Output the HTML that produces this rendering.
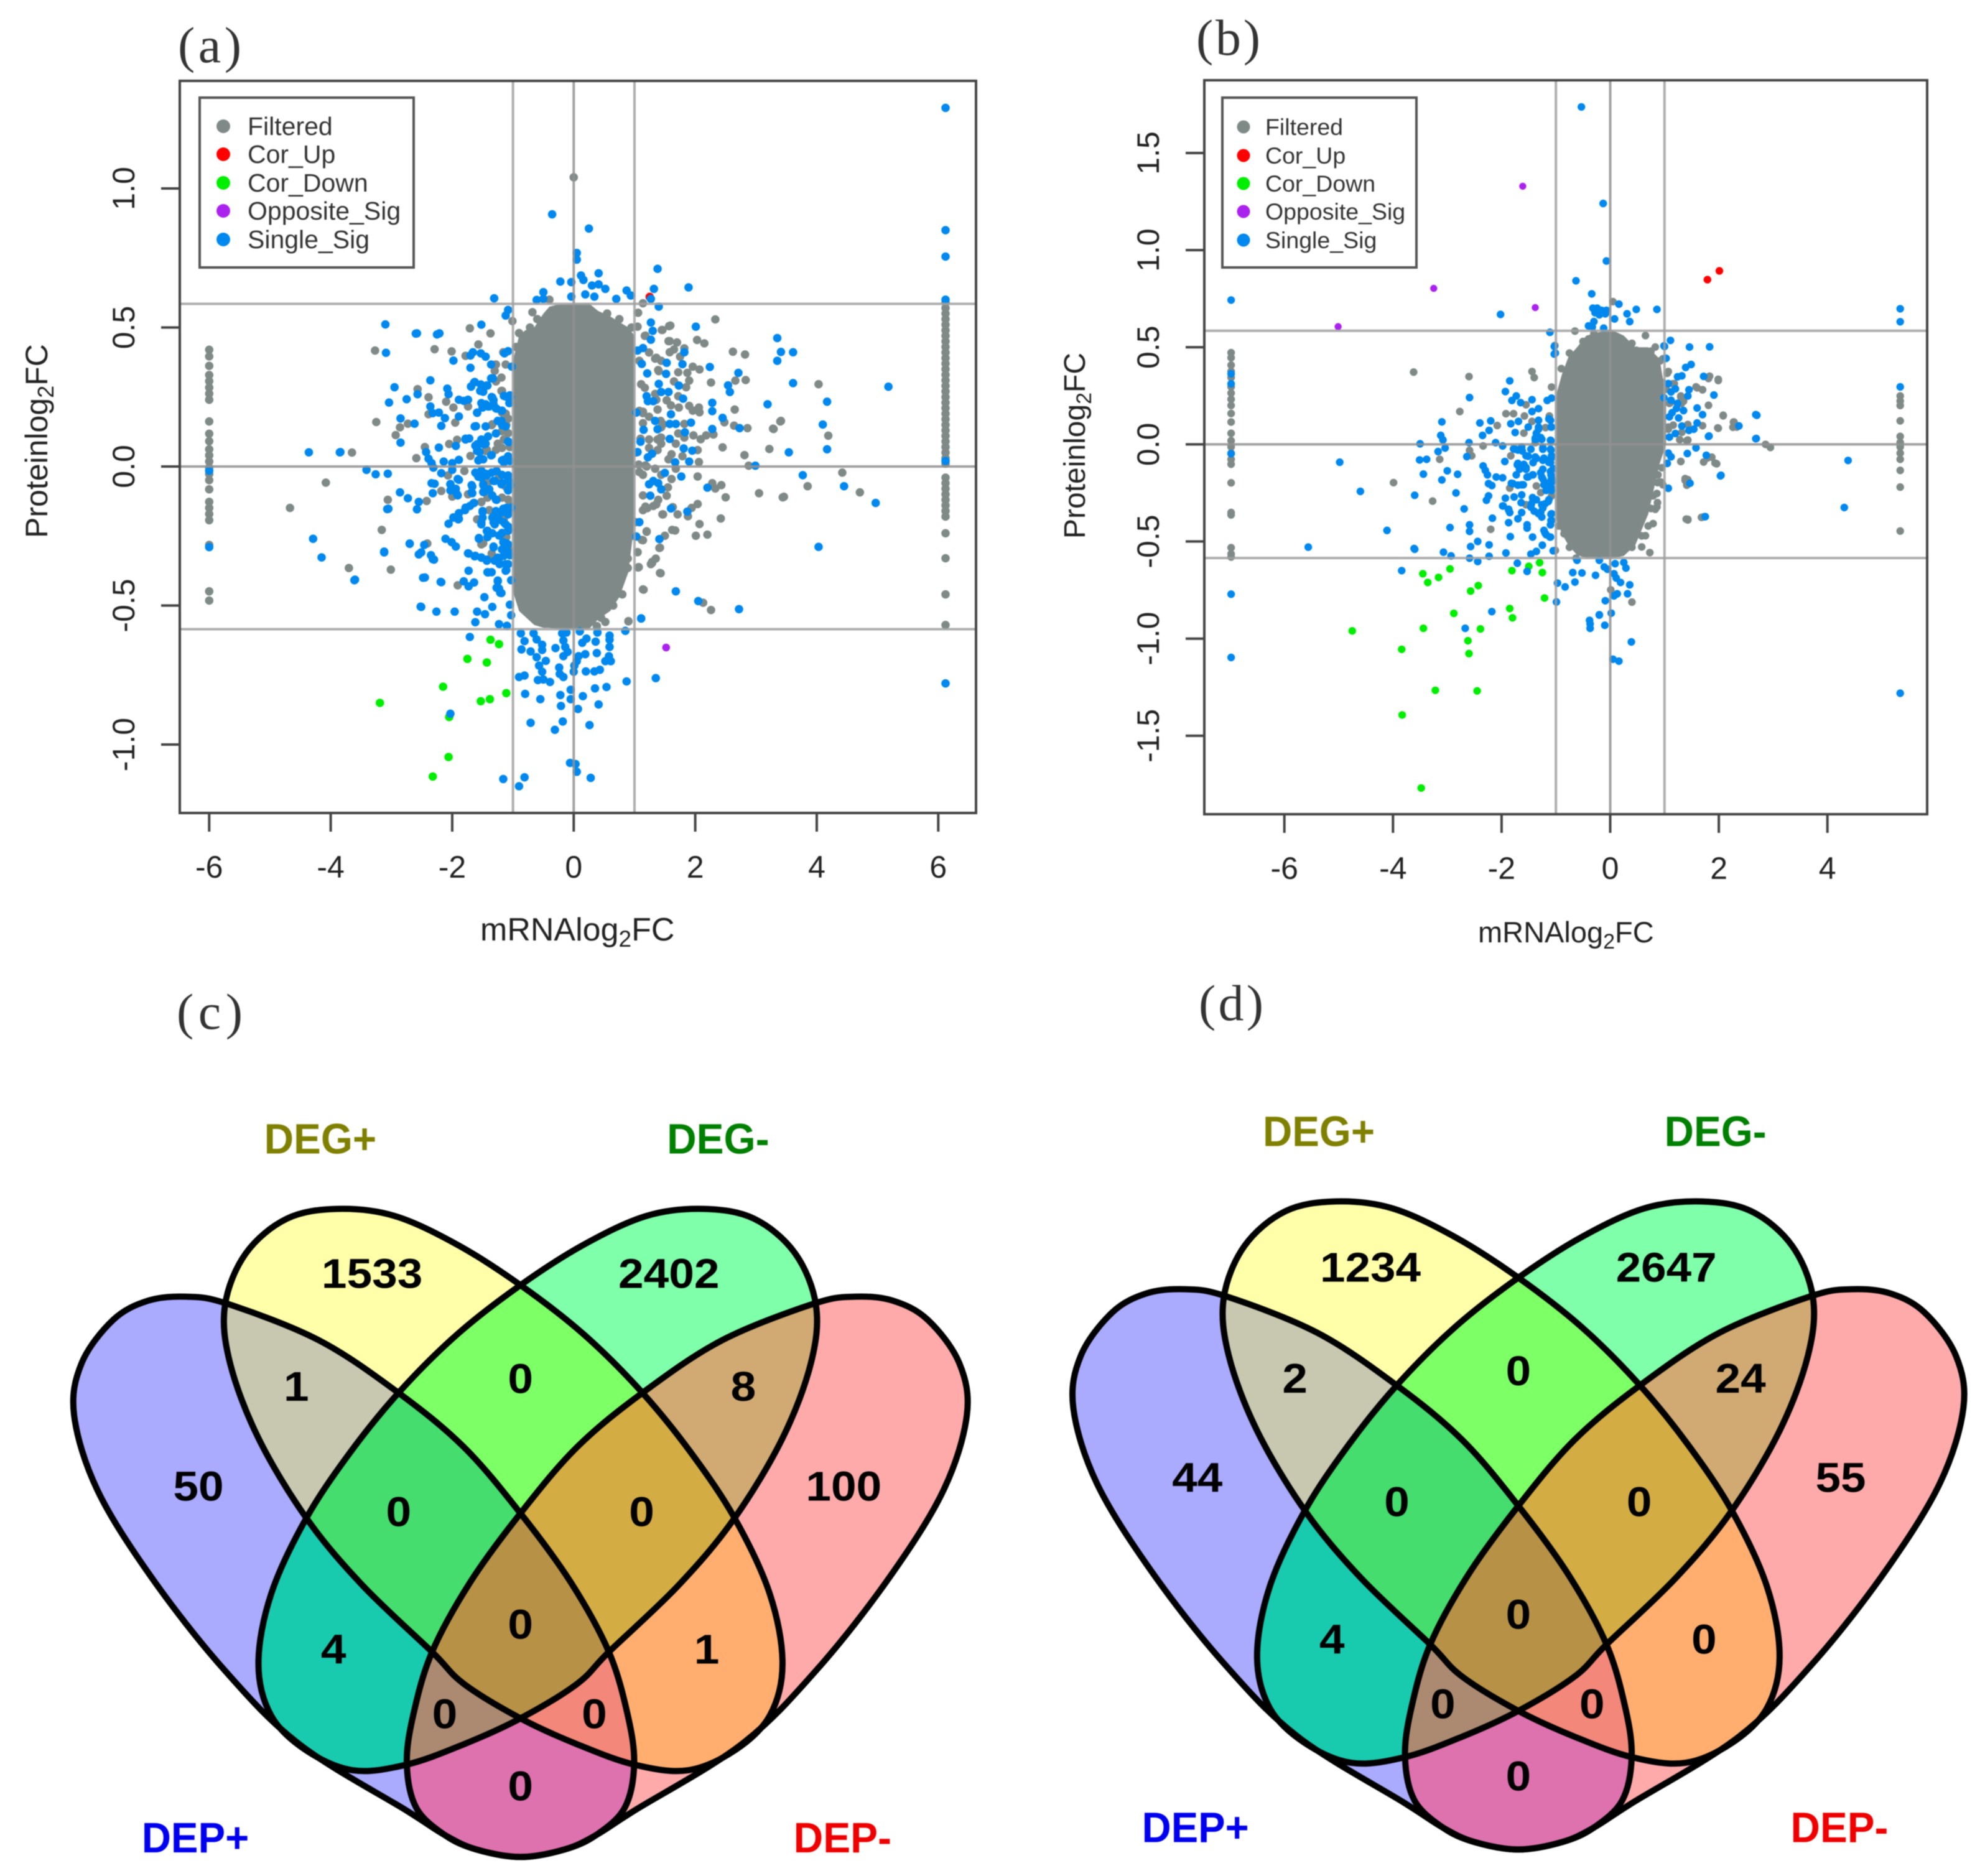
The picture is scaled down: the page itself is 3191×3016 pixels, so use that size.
<!DOCTYPE html>
<html lang="en">
<head>
<meta charset="utf-8">
<title>mRNA and protein log2FC scatter plots with Venn diagrams</title>
<style>
html,body{margin:0;padding:0;background:#fff;}
svg{display:block;filter:blur(0.8px);}
text{font-family:"Liberation Sans",sans-serif;}
.tick{font-size:50px;fill:#222;}
.venn-num{font-size:72px;font-weight:bold;fill:#000;text-anchor:middle;}
.venn-lab{font-size:74px;font-weight:bold;text-anchor:middle;}
.panel-label{font-family:"Liberation Serif",serif;font-size:82px;fill:#333;}
</style>
</head>
<body>
<svg id="fig" xmlns="http://www.w3.org/2000/svg" width="3191" height="3016" viewBox="0 0 3191 3016">
<rect width="3191" height="3016" fill="#fff"/>
<defs id="vennDefs"></defs>

<text class="panel-label" x="286" y="100" textLength="102" lengthAdjust="spacing">(a)</text>
<text class="panel-label" x="1923" y="88" textLength="103" lengthAdjust="spacing">(b)</text>
<text class="panel-label" x="284" y="1654" textLength="106" lengthAdjust="spacing">(c)</text>
<text class="panel-label" x="1927" y="1640" textLength="104" lengthAdjust="spacing">(d)</text>

<g id="panelA"></g>
<g id="panelB"></g>

<g font-size="41" fill="#333">
<rect x="321" y="157" width="344" height="273" fill="#fff" stroke="#555" stroke-width="4"/>
<circle cx="359" cy="203" r="11" fill="#7f8a88"/>
<circle cx="359" cy="248" r="11" fill="#ff0000"/>
<circle cx="359" cy="294" r="11" fill="#00ee00"/>
<circle cx="359" cy="339" r="11" fill="#aa22ee"/>
<circle cx="359" cy="385" r="11" fill="#0088ee"/>
<text x="398" y="217">Filtered</text>
<text x="398" y="262">Cor_Up</text>
<text x="398" y="308">Cor_Down</text>
<text x="398" y="353">Opposite_Sig</text>
<text x="398" y="399">Single_Sig</text>
</g>
<g font-size="37.5" fill="#333">
<rect x="1965" y="157" width="312" height="273" fill="#fff" stroke="#555" stroke-width="4"/>
<circle cx="1999" cy="204" r="10.5" fill="#7f8a88"/>
<circle cx="1999" cy="250" r="10.5" fill="#ff0000"/>
<circle cx="1999" cy="295" r="10.5" fill="#00ee00"/>
<circle cx="1999" cy="340" r="10.5" fill="#aa22ee"/>
<circle cx="1999" cy="386" r="10.5" fill="#0088ee"/>
<text x="2034" y="217">Filtered</text>
<text x="2034" y="263">Cor_Up</text>
<text x="2034" y="308">Cor_Down</text>
<text x="2034" y="353">Opposite_Sig</text>
<text x="2034" y="399">Single_Sig</text>
</g>

<text x="772" y="1512" font-size="52" fill="#222">mRNAlog<tspan dy="10" font-size="37">2</tspan><tspan dy="-10">FC</tspan></text>
<text transform="translate(76,865) rotate(-90)" font-size="50" fill="#222">Proteinlog<tspan dy="10" font-size="36">2</tspan><tspan dy="-10">FC</tspan></text>
<text x="2376" y="1515" font-size="47" fill="#222">mRNAlog<tspan dy="10" font-size="34">2</tspan><tspan dy="-10">FC</tspan></text>
<text transform="translate(1744,866) rotate(-90)" font-size="48" fill="#222">Proteinlog<tspan dy="10" font-size="34">2</tspan><tspan dy="-10">FC</tspan></text>

<g id="vennC" transform="translate(4.4,1560) scale(1.015,0.9286)">
<g id="vennCFill"></g>
<g id="vennCLine"></g>
<text class="venn-lab" x="503" y="317" fill="#808000" textLength="178" lengthAdjust="spacingAndGlyphs">DEG+</text>
<text class="venn-lab" x="1133" y="317" fill="#008000" textLength="162" lengthAdjust="spacingAndGlyphs">DEG-</text>
<text class="venn-lab" x="305" y="1527" fill="#0000ee" textLength="170" lengthAdjust="spacingAndGlyphs">DEP+</text>
<text class="venn-lab" x="1330" y="1527" fill="#ee0000" textLength="155" lengthAdjust="spacingAndGlyphs">DEP-</text>
<text class="venn-num" x="585" y="550">1533</text>
<text class="venn-num" x="1055" y="550">2402</text>
<text class="venn-num" x="310" y="918">50</text>
<text class="venn-num" x="1332" y="918">100</text>
<text class="venn-num" x="465" y="745">1</text>
<text class="venn-num" x="820" y="732">0</text>
<text class="venn-num" x="1173" y="745">8</text>
<text class="venn-num" x="627" y="962">0</text>
<text class="venn-num" x="1012" y="962">0</text>
<text class="venn-num" x="524" y="1200">4</text>
<text class="venn-num" x="820" y="1157">0</text>
<text class="venn-num" x="1115" y="1200">1</text>
<text class="venn-num" x="700" y="1312">0</text>
<text class="venn-num" x="937" y="1312">0</text>
<text class="venn-num" x="820" y="1437">0</text>
</g>

<g id="vennD" transform="translate(1611,1548) scale(1.012,0.9286)">
<g id="vennDFill"></g>
<g id="vennDLine"></g>
<text class="venn-lab" x="503" y="317" fill="#808000" textLength="178" lengthAdjust="spacingAndGlyphs">DEG+</text>
<text class="venn-lab" x="1133" y="317" fill="#008000" textLength="162" lengthAdjust="spacingAndGlyphs">DEG-</text>
<text class="venn-lab" x="307" y="1522" fill="#0000ee" textLength="170" lengthAdjust="spacingAndGlyphs">DEP+</text>
<text class="venn-lab" x="1330" y="1522" fill="#ee0000" textLength="155" lengthAdjust="spacingAndGlyphs">DEP-</text>
<text class="venn-num" x="585" y="552">1234</text>
<text class="venn-num" x="1055" y="552">2647</text>
<text class="venn-num" x="310" y="916">44</text>
<text class="venn-num" x="1332" y="916">55</text>
<text class="venn-num" x="465" y="744">2</text>
<text class="venn-num" x="820" y="731">0</text>
<text class="venn-num" x="1173" y="744">24</text>
<text class="venn-num" x="627" y="958">0</text>
<text class="venn-num" x="1012" y="958">0</text>
<text class="venn-num" x="524" y="1196">4</text>
<text class="venn-num" x="820" y="1153">0</text>
<text class="venn-num" x="1115" y="1196">0</text>
<text class="venn-num" x="700" y="1308">0</text>
<text class="venn-num" x="937" y="1308">0</text>
<text class="venn-num" x="820" y="1433">0</text>
</g>
</svg>

<script>
// ---------- Panel (a) values, flat x,y sequences in data units ----------
const xTicksA = [-6,-4,-2,0,2,4,6];
const yTicksA = [1.0,0.5,0.0,-0.5,-1.0];
const yTickLabelsA = ["1.0","0.5","0.0","-0.5","-1.0"];
const coreXA = [-1,-.9,-.8,-.65,-.5,-.4,-.25,0,.25,.4,.6,.75,.9,1];
const coreTopA = [.38,.47,.49,.5,.55,.575,.583,.585,.587,.56,.54,.52,.5,.47];
const coreBottomA = [-.45,-.52,-.54,-.57,-.58,-.58,-.585,-.585,-.585,-.55,-.52,-.47,-.38,-.2];
const filteredA = [
-6,.42,-6,.396,-6,.362,-6,.329,-6,.307,-6,.284,-6,.262,-6,.24,-6,.162,-6,.118,-6,.091,-6,.062,-6,.04,-6,.018,-6,-.004,-6,-.027,-6,-.049,-6,-.082,-6,-.127,-6,-.149,-6,-.171,-6,-.193,-6,-.282,-6,-.449,-6,-.482,
6.12,.59,6.12,.57,6.12,.55,6.12,.53,6.12,.51,6.12,.49,6.12,.47,6.12,.45,6.12,.43,6.12,.41,6.12,.39,6.12,.37,6.12,.35,6.12,.33,6.12,.31,6.12,.29,6.12,.27,6.12,.25,6.12,.23,6.12,.21,6.12,.19,6.12,.17,6.12,.15,6.12,.13,6.12,.11,6.12,.09,6.12,.07,6.12,.05,6.12,.03,6.12,.01,6.12,-.04,6.12,-.06,6.12,-.08,6.12,-.1,6.12,-.12,6.12,-.14,6.12,-.16,6.12,-.18,6.12,-.24,6.12,-.33,6.12,-.46,6.12,-.57,
0,1.04,-4.67,-.149,-4.08,-.058,-3.65,.05,-3.7,-.365,-3.01,-.371,-3.16,-.228,-3.27,.417,-3.25,.16,-2.93,.113,-2.86,.141,-2.73,.154,-2.57,.278,-2.39,.249,-2.29,.422,-2.01,.414,-1.71,.497,-1.37,.479,-1.57,.439,-1.78,.398,-2.1,.233,-1.98,.212,-1.74,.216,-2.39,.188,-1.95,.158,-2.45,.07,-2.05,.081,-1.92,.096,-2.59,.03,-1.7,.038,-2.07,-.032,-1.8,-.016,-2.18,-.088,-2,-.108,-3.06,-.12,-2.42,-.124,-2.41,-.277,-1.91,-.427,-1.59,-.19,-1.52,-.128,-1.74,-.1,-1.52,-.28,-1.34,-.32,-1.28,.367,-1.19,.32,-1.3,.344,-1.12,.367,-1.16,.411,-1.01,.523,-.68,.555,-1.19,.272,-1.34,.152,-1.12,-.072,-1.43,-.056,-1.43,.06,-1.23,-.036,-1.16,-.188,-1.12,-.256,
-1.35,.149,-1.18,.127,-1.25,.082,-1.45,.056,-1.15,.097,-1.28,.06,-1.18,.067,-1.42,-.06,-1.11,-.067,-1.22,-.037,-1.42,-.112,-1.18,-.112,-1.08,-.119,-1.52,-.127,-1.39,-.157,-1.15,-.187,-1.11,-.254,-1.49,-.276,-1.35,-.313,-1.18,.194,-1.08,.172,-1.11,.149,-1.28,.306,-1.18,.272,-1.3,.366,-1.08,.12,-1.12,.19,-1.05,.07,-1.05,-.14,-1.06,-.3,
1.14,.587,1.06,.553,1.05,.503,1.18,.471,1.45,.491,1.57,.505,1.56,.451,1.36,.391,1.4,.343,1.11,.296,1.36,.24,1.14,.192,1.47,.152,1.43,.104,1.18,.004,1.14,-.104,1.36,-.136,1.18,-.144,1.47,-.172,1.2,-.233,1.12,-.264,1.62,-.228,1.42,-.292,1.05,-.308,.89,-.331,1.29,-.343,1.42,-.383,1.06,-.363,1.14,-.442,
1.17,.47,1.24,.41,1.34,.388,1.44,.38,1.58,.451,1.7,.446,1.58,.411,1.65,.421,1.75,.395,1.82,.425,1.96,.359,2.07,.349,1.39,.347,1.72,.339,1.87,.337,1.65,.306,1.9,.309,1.85,.285,1.17,.283,1.34,.261,1.53,.238,1.72,.253,1.6,.22,1.73,.212,1.9,.218,2.06,.212,1.96,.201,2.07,.195,1.14,.197,1.24,.179,1.38,.205,1.43,.164,1.44,.141,1.14,.156,1.82,.153,1.97,.112,2.09,.098,2.18,.112,2.3,.115,1.72,.119,1.82,.104,1.38,.097,1.24,.097,1.44,.104,1.24,.067,1.38,.059,1.44,.082,1.68,.082,1.61,.044,1.56,.026,1.79,.037,2.04,.059,2.06,.016,1.07,.007,1.2,0,1.34,-.008,1.68,-.008,1.44,-.03,1.61,-.045,1.14,-.03,2.04,-.036,1.55,-.075,1.53,-.105,1.39,-.12,1.31,-.142,1.14,-.157,1.21,-.15,1.46,-.172,1.63,-.146,1.71,-.172,1.94,-.149,2.04,-.135,1.88,-.179,2.28,-.06,2.33,-.079,2.43,-.067,2.5,-.111,2.42,-.187,2.07,-.207,1.67,-.23,1.5,-.249,2.01,-.249,2.2,-.245,1.2,-.235,1.14,-.265,1.41,-.293,1.05,-.308,1.35,-.331,1.27,-.351,1.07,-.362,1.43,-.384,1.15,-.443,2.13,-.49,2.26,-.516,2.33,.529,1.59,.507,1.46,.491,2.03,.455,2.15,.443,2.62,.413,2.82,.403,2.26,.302,2.66,.309,2.83,.311,2.65,.205,2.48,.159,2.64,.147,2.86,.138,3.29,.135,3.41,.164,2.45,.069,2.81,.041,3.22,.063,2.88,.003,3.05,-.096,3.44,-.111,
4.03,.296,3.28,.136,3.4,.162,4.19,.111,3.46,-.109,3.85,-.071,4.42,-.022,4.71,-.093,
.9,-.556,.52,-.433,.59,-.462,.49,-.511,.45,-.544,.23,-.537,.23,-.556,.7,-.388,.8,-.391,.89,-.365,1.07,-.362,1.29,-.347,.9,-.557,.52,-.559,.38,-.574,1.02,-.2,.95,-.25,.8,-.46,.65,-.5,1.02,.05,1.08,-.02,1.1,.1,1.08,.2,1.08,.38,.95,.5,.75,.53,.55,.55,-.72,.5,-.9,.48,-.95,.43,-.6,.53,-.4,.6
];
const corUpA = [1.25,.61];
const corDownA = [-1.37,-.623,-1.23,-.639,-1.75,-.692,-1.43,-.705,-2.15,-.792,-1.11,-.815,-1.38,-.837,-1.53,-.844,-3.19,-.85,-2.05,-.901,-2.06,-1.045,-2.32,-1.115];
const oppositeSigA = [1.52,-.651];
const singleSigA = [
6.12,1.29,6.12,.85,6.12,.755,6.12,.6,6.12,.02,6.12,-.78,-6,-.015,-6,-.29,
.05,.768,.05,.744,-.22,.665,-.04,.663,-.04,.611,.12,.687,.16,.671,.41,.695,.3,.651,.41,.655,.52,.639,.19,.619,.34,.611,.7,.603,.87,.633,.94,.615,1.38,.711,1.32,.639,1.27,.603,1.4,.575,-.5,.627,-.61,.599,-.5,.603,-1.31,.605,-1.08,.563,-1.12,.543,1.89,.644,-.355,.907,.25,.856,
1.27,.518,1.3,.488,1.27,.456,1.14,.426,1.05,.417,2.01,.503,1.82,.411,1.12,.369,1.53,.373,1.79,.368,2.24,.358,1.21,.335,1.52,.333,2.71,.337,2.54,.292,2.57,.268,1.4,.297,1.44,.268,1.56,.268,1.73,.291,1.2,.253,1.22,.235,1.31,.235,1.8,.244,2.28,.229,2.28,.199,3.19,.224,1.03,.194,1.6,.188,1.34,.164,1.38,.134,1.58,.153,1.68,.153,1.93,.158,1.15,.132,1.83,.123,2.28,.135,2.73,.138,2.45,.175,1.58,.099,1.1,.089,1.81,.065,1.95,.057,1.05,.052,1.22,.033,1.29,.046,1.67,.015,1.9,.018,2.99,.003,1.5,-.023,1.77,-.036,1.31,-.052,1.24,-.064,1.39,-.06,1.44,-.082,2.2,-.076,1.26,-.105,1.87,-.162,1.6,-.151,1.08,-.2,1.03,-.252,1.41,-.261,1.68,-.449,2.05,-.484,2.72,-.513,1.11,-.546,3.35,.462,3.41,.412,3.35,.38,
3.61,.411,3.61,.3,5.18,.287,4.17,.233,4.1,.151,4.17,.062,3.54,.051,3.77,-.031,4.45,-.071,4.97,-.131,4.03,-.289,
-3.1,.511,-2.58,.479,-2.25,.475,-2.21,.479,-3.09,.409,-1.98,.381,-1.7,.355,-1.7,.399,-1.66,.411,-1.52,.51,-1.53,.407,-1.45,.395,-1.14,.407,-1.08,.415,-1.36,.367,-1.02,.359,-2.36,.31,-2.95,.285,-2.75,.242,-3.04,.23,-2.57,.26,-2.08,.28,-2.06,.26,-1.89,.24,-1.74,.24,-1.81,.236,-2.36,.216,-2.32,.192,-2.22,.194,-2.12,.174,-1.89,.18,-2.18,.146,-2.62,.154,-2.85,.173,-2.85,.086,-2.22,.068,-1.94,.074,-1.78,.1,-1.63,.144,-1.45,.144,-1.69,.288,-1.63,.304,-1.36,.317,-1.49,.284,-1.43,.292,-1.54,.272,-1.12,.252,-1.05,.256,-1.34,.248,-1.32,.224,-1.41,.216,-1.5,.212,-1.27,.208,-1.59,.193,-1.19,.164,-1.12,.144,-1.59,.08,-1.52,.096,-1.41,.108,-1.59,.056,-1.48,.08,-1.07,.088,-1.36,.04,-1.08,.036,-1.16,.024,-1.56,.024,-1.05,.02,-3.84,.052,-2.43,.052,-2.39,.028,-2.34,.012,-2.14,.018,-1.89,.024,-2,.012,-2.31,-.004,
-1.32,.239,-1.39,.216,-1.28,.209,-1.49,.216,-1.18,.201,-1.59,.194,-1.35,.25,-1.45,.224,-1.52,.097,-1.59,.075,-1.45,.082,-1.55,.052,-1.57,.022,-1.49,.026,-1.35,.041,-1.18,.022,-1.08,.037,-1.08,.022,-1.15,.015,-1.62,.075,-1.72,.101,-1.78,.097,-1.25,.164,-1.18,.149,-1.28,.119,-1.08,.09,-1.61,.145,-1.49,.283,-1.42,.291,-1.49,.269,-1.69,.287,-1.64,.302,-1.53,.295,-1.33,.317,-1.15,.254,-1.04,.25,-1.06,.228,-1.52,.228,
-3.41,-.012,-3.26,-.028,-3.06,-.026,-2.18,-.024,-2,-.012,-1.61,-.024,-1.52,-.04,-1.43,-.032,-1.27,-.016,-1.08,-.032,-1.05,-.056,-1.3,-.052,-1.49,-.064,-1.19,-.064,-1.89,-.048,-2.03,-.064,-2.29,-.062,-2.32,-.096,-1.94,-.08,-1.92,-.1,-1.67,-.072,-1.67,-.096,-1.49,-.092,-1.34,-.104,-1.27,-.12,-1.08,-.084,-2.73,-.114,-3.05,-.152,-2.58,-.154,-1.65,-.132,-1.78,-.148,-1.89,-.168,-1.98,-.184,-1.89,-.188,-2.06,-.206,-1.5,-.16,-1.5,-.184,-1.52,-.208,-1.34,-.184,-1.28,-.16,-1.16,-.152,-1.08,-.168,-1.03,-.148,-1.23,-.192,-1.3,-.208,-1.12,-.208,-1.07,-.228,-1.43,-.232,-1.34,-.24,-1.56,-.26,-1.23,-.248,-1.16,-.272,-1.08,-.28,-1.32,-.288,-2.11,-.26,-2.01,-.272,-1.94,-.288,-2.7,-.277,-3.12,-.306,-2.51,-.309,-2.35,-.319,-2.3,-.335,-1.74,-.312,-1.63,-.323,-1.52,-.327,-1.43,-.335,-1.23,-.331,-1.3,-.339,-1.12,-.351,-1.05,-.319,-1.14,-.312,-1.73,-.375,-1.41,-.381,-1.12,-.375,-3.6,-.407,-2.45,-.399,-2.19,-.415,-1.81,-.413,-1.73,-.431,-1.64,-.417,-1.25,-.413,-1.23,-.439,-1.19,-.455,-1.03,-.409,
-1.62,-.022,-1.52,-.015,-1.57,-.037,-1.45,-.026,-1.35,-.022,-1.18,-.03,-1.08,-.045,-1.04,-.067,-1.18,-.06,-1.49,-.067,-1.47,-.09,-1.39,-.082,-1.32,-.052,-1.08,-.086,-1.28,-.119,-1.68,-.067,-1.68,-.093,-2.03,-.063,-1.91,-.045,-1.91,-.104,-2.03,-.086,-1.11,-.149,-1.18,-.164,-1.08,-.172,-1.32,-.179,-1.32,-.201,-1.25,-.187,-1.15,-.201,-1.08,-.216,-1.5,-.164,-1.52,-.201,-1.42,-.231,-1.18,-.239,-1.08,-.231,-1.11,-.276,-1.18,-.298,-1.08,-.306,-1.32,-.291,-1.56,-.257,-1.42,-.254,-1.73,-.313,-1.62,-.321,-1.52,-.328,-1.43,-.339,-1.25,-.328,-1.22,-.351,-1.15,-.321,-1.08,-.351,-1.11,-.373,-1.42,-.38,-1.35,-.38,-1.98,-.183,-1.9,-.19,-1.79,-.157,-1.71,-.142,-1.64,-.131,
-4.36,.051,-3.85,.051,-4.29,-.26,-4.15,-.327,-3.61,-.409,-3.12,-.309,-3.07,-.153,-2.6,.478,-2.7,-.278,-2.46,-.282,-2.55,-.316,-2.32,-.333,-2.48,-.4,-2.18,-.416,-2.52,-.504,-2.55,-.127,-2.86,-.093,-2.34,-.06,
-2.51,-.505,-2.26,-.522,-1.96,-.522,-1.59,-.522,-1.46,-.531,-1.34,-.505,-1.62,-.56,-1.47,-.47,-1.23,-.567,-1.1,-.573,-1.05,-.497,-1.03,-.535,-1.25,-.41,-1.27,-.436,-1.21,-.454,
-1.71,-.613,-.87,-.6,-.81,-.628,-.86,-.658,-.71,-.665,-.66,-.6,-.61,-.622,-.52,-.641,-.52,-.66,-.61,-.686,-.46,-.699,-.57,-.716,-.52,-.738,-.9,-.757,-.81,-.752,-.59,-.768,-.5,-.766,-.39,-.775,-.8,-.818,-.55,-.837,-.22,-.822,-.05,-.803,-.05,-.837,-.21,-.861,.07,-.872,.15,-.826,.35,-.798,.54,-.793,.41,-.856,.87,-.773,1.35,-.761,-.71,-.922,-.18,-.917,-.31,-.947,.26,-.93,
-.3,-.653,-.19,-.6,-.12,-.597,-.17,-.626,-.14,-.649,-.1,-.667,-.17,-.682,-.24,-.723,-.23,-.746,-.17,-.757,.1,-.593,.39,-.597,.59,-.608,.59,-.623,.59,-.649,.21,-.619,.14,-.634,.36,-.63,.38,-.671,.19,-.675,.08,-.682,.05,-.7,.01,-.716,0,-.738,.2,-.737,.34,-.737,.43,-.731,.58,-.682,.52,-.7,.61,-.7,.85,-.591,1.11,-.547,
-.06,-1.066,.03,-1.07,.05,-1.098,.28,-1.12,-1.16,-1.124,-.81,-1.118,-.9,-1.15,-2.03,-.889
];

// ---------- Panel (b) values, flat x,y sequences in data units ----------
const xTicksB = [-6,-4,-2,0,2,4];
const yTicksB = [1.5,1.0,0.5,0.0,-0.5,-1.0,-1.5];
const yTickLabelsB = ["1.5","1.0","0.5","0.0","-0.5","-1.0","-1.5"];
const coreXB = [-1,-.89,-.77,-.61,-.44,0,.25,.46,.7,.91,1.03];
const coreTopB = [.25,.36,.45,.5,.56,.592,.56,.5,.5,.44,.24];
const coreBottomB = [-.38,-.46,-.52,-.57,-.586,-.589,-.574,-.52,-.36,-.1,.0];
const filteredB = [
-6.98,.472,-6.98,.446,-6.98,.408,-6.98,.376,-6.98,.344,-6.98,.296,-6.98,.264,-6.98,.232,-6.98,.2,-6.98,.159,-6.98,.115,-6.98,.057,-6.98,.019,-6.98,-.013,-6.98,-.045,-6.98,-.077,-6.98,-.102,-6.98,-.198,-6.98,-.351,-6.98,-.363,-6.98,-.532,-6.98,-.564,-6.98,-.58,
5.34,.249,5.34,.223,5.34,.2,5.34,.121,5.34,.041,5.34,.01,5.34,-.013,5.34,-.045,5.34,-.077,5.34,-.134,5.34,-.22,5.34,-.446,
-3.62,.372,-2.6,.349,-1.44,.375,-1.4,.344,-2.77,.169,-1.92,.158,-1.78,.158,-1.55,.204,-1.58,.146,-2.08,.097,-1.44,.118,-1.59,.058,-1.19,.086,-1.12,.146,-2.34,-.008,-2.59,-.031,-2.55,-.059,-3.14,-.077,-3.99,-.197,-3.27,-.292,-1.85,-.225,-2.2,-.437,-1.36,-.214,-1.28,-.248,-1.08,-.265,-1.55,-.311,-1.83,-.059,-1.38,.009,-.65,.583,-1.02,.509,-1.08,.295,-.85,.318,.05,.735,.65,.56,.73,-.557,-.63,-.586,-1.01,-.546,.4,-.812,.01,-.749,
.48,.484,.83,.501,1.07,.375,1.15,.312,1.03,.284,1.3,.244,1.11,.215,1.07,.089,1.3,-.088,1.38,-.185,1.4,-.385,.87,-.157,.87,-.197,.97,-.208,.7,-.208,.79,-.265,.87,-.3,.83,-.334,.79,-.408,.58,-.471,.58,-.528,
1.99,.335,1.83,.351,1.58,.296,1.7,.281,2.08,.147,2.28,.115,1.99,.083,2.33,.089,2.86,0,2.95,-.016,1.79,-.07,1.93,-.096,1.72,-.373,1.43,-.389,1.43,-.182,1.7,.096,1.31,.21,1.41,.019,1.81,.201,
1.05,.366,.97,.441,1.18,.313,1.6,.291,1.7,.281,1.81,.339,1.99,.329,1.3,.249,1.35,.222,1.09,.211,2.08,.15,2.27,.115,2.26,.088,1.98,.085,1.16,.099,1.07,.078,1.43,.102,1.32,.062,1.28,.024,1.43,.022,1.3,-.088,1.72,-.091,1.87,-.066,1.96,-.1,1.38,-.176,1.41,-.21,1.43,-.386,1.68,-.376,.88,-.157,.93,-.194,.86,-.253,.86,-.322,.97,.318,
-.75,.47,-.9,.39,-.5,.53,-.3,.57,.4,.52,.75,.48,.92,.43,1,.3,.95,-.12,.75,-.33,.7,-.42,.65,-.47,.4,-.53,-.75,-.53,-.85,-.46,-.95,-.42
];
const corUpB = [1.79,.848,2.01,.893];
const corDownB = [-3.45,-.666,-3.36,-.711,-3.16,-.685,-2.95,-.641,-2.57,-.755,-2.43,-.727,-1.81,-.65,-1.5,-.628,-1.3,-.609,-1.25,-.66,-1.21,-.791,-1.85,-.845,-1.8,-.893,-2.88,-.87,-2.39,-.95,-3.44,-.947,-4.75,-.96,-2.62,-1.011,-2.6,-1.077,-3.84,-1.055,-3.22,-1.266,-2.45,-1.269,-3.83,-1.393,-3.48,-1.769];
const oppositeSigB = [-1.61,1.329,-3.25,.803,-1.38,.704,-5.01,.606];
const singleSigB = [
-6.98,.743,-6.98,.363,-6.98,.312,-6.98,-.048,-6.98,-.771,-6.98,-1.097,5.34,.698,5.34,.631,5.34,.296,5.34,-1.281,
-.53,1.737,-.13,1.24,-.07,.944,-.63,.842,-.34,.775,-2.02,.669,-1.11,.577,-1.03,.504,-1.03,.465,.48,.695,.86,.695,1,.504,2.68,.153,2.68,.029,2.04,-.159,1.81,.041,4.38,-.083,4.31,-.325,-5.56,-.529,-4.98,-.092,-4.6,-.242,-4.11,-.443,-3.61,-.536,-3.84,-.65,.39,-1.017,.05,-1.106,.16,-1.116,
.16,.722,.31,.672,.36,.632,.08,.646,-.32,.701,-.24,.701,-.16,.69,-.07,.69,-.28,.678,-.2,.667,-.09,.672,-.3,.632,-.4,.61,-.33,.604,-.12,.598,-1.01,.47,
1.11,.535,.99,.507,1.46,.501,1.83,.502,1.03,.443,1.49,.411,1.39,.396,1.32,.353,1.24,.348,1.72,.35,1.07,.313,1.2,.286,1.12,.27,1.45,.281,1.43,.249,1.91,.254,.99,.24,1.12,.227,1.24,.211,1.22,.185,1.14,.163,1.09,.142,1.26,.136,1.35,.174,1.6,.187,1.7,.153,1.6,.11,1.32,.094,1.45,.072,1.54,.078,1.2,.056,1.09,.037,1.82,.043,2.7,.15,2.37,.095,2.69,.03,1.07,-.045,1.12,-.064,1.05,-.098,1.42,-.047,1.58,-.018,1.77,-.056,2.03,-.162,1.47,-.2,1.07,-.226,1.75,-.372,
-1.85,.327,-1.93,.272,-2.59,.241,-1.73,.249,-1.81,.226,-1.65,.215,-1.44,.23,-1.16,.226,-1.08,.238,-1.44,.169,-1.32,.184,-1.1,.124,-1.08,.089,-1.32,.124,-1.51,.089,-1.75,.061,-1.83,.106,-1.69,.118,-2.2,.121,-2.4,.11,-2.23,.072,-2.35,.046,-3.1,.116,-3.12,.046,-3.08,.023,-3.5,.003,-2.6,.009,-2.11,.009,-1.98,-.008,-3.04,-.019,-3.17,-.037,-3.51,-.08,-3.38,-.077,-2.64,-.063,
-1.32,.078,-1.38,.032,-1.26,.026,-1.1,.021,-1.75,-.025,-1.63,-.014,-1.46,-.025,-1.24,-.025,-1.1,-.025,-1.55,-.059,-1.38,-.065,-1.22,-.071,-1.08,-.059,-1.94,-.088,-1.71,-.105,-1.59,-.105,-1.42,-.094,-1.1,-.094,-1.67,-.128,-1.55,-.128,-1.24,-.128,-1.1,-.14,-1.73,-.157,-1.53,-.168,-1.42,-.157,-1.26,-.168,-1.08,-.174,-2.34,-.111,-2.3,-.134,-2.26,-.157,-2.1,-.168,-1.98,-.172,-3,-.136,-2.81,-.154,-3.44,-.153,-3.1,-.183,-2.24,-.202,-2.18,-.212,-1.79,-.202,-1.63,-.208,-1.22,-.208,-1.1,-.214,-1.18,-.237,-1.08,-.237,-2.84,-.25,-3.6,-.262,-2.24,-.265,-2.28,-.288,-1.93,-.277,-1.77,-.271,-1.63,-.26,-1.64,-.3,-1.42,-.288,-1.26,-.311,-1.14,-.294,-1.46,-.323,-1.98,-.317,-1.87,-.334,-1.85,-.351,-2.69,-.332,-2.17,-.38,-1.87,-.403,-1.7,-.383,-1.63,-.351,-1.32,-.357,-1.26,-.374,-1.08,-.357,-1.08,-.391,-1.1,-.414,-1.53,-.414,-1.53,-.431,-2.59,-.414,-2.59,-.448,-2.95,-.428,-1.84,-.475,-1.43,-.477,-1.22,-.443,-1.18,-.465,-1.1,-.477,-2.44,-.5,-2.57,-.526,-2.23,-.517,-1.25,-.519,-1.36,-.551,-1.46,-.565,-1.92,-.559,-1.05,-.548,-3.6,-.54,-3.07,-.555,-2.93,-.574,-2.59,-.586,-2.23,-.576,-2.44,-.603,-1.71,-.612,-1.53,-.654,
-1.36,.057,-1.28,.035,-1.09,.019,-1.32,.089,-1.09,.089,-1.78,-.023,-1.7,-.029,-1.62,-.034,-1.51,-.061,-1.36,-.072,-1.24,-.082,-1.09,-.029,-1.09,-.072,-1.24,-.018,-1.7,-.098,-1.59,-.103,-1.66,-.125,-1.55,-.119,-1.13,-.093,-1.05,-.125,-1.28,-.146,-1.09,-.157,-1.05,-.189,-1.51,-.167,-1.43,-.157,-1.24,-.178,-1.17,-.199,-1.09,-.221,-1.43,-.274,-1.45,-.306,-1.36,-.285,-1.2,-.306,-1.13,-.285,-1.28,-.349,-1.4,-.344,-1.09,-.36,-1.09,-.392,-1.24,-.328,-1.2,-.456,-1.11,-.477,-1.82,-.2,-1.7,-.21,-1.6,-.208,-1.87,-.338,-1.97,-.317,-1.38,.025,-1.13,.131,
-.61,-.597,-.2,-.597,-.11,-.631,-.05,-.643,.09,-.614,.25,-.608,.29,-.637,.07,-.666,.11,-.688,.19,-.711,-.69,-.66,-.52,-.662,-.27,-.674,-.97,-.714,-.83,-.734,-.65,-.709,.36,-.723,.32,-.769,.13,-.769,.07,-.78,-.09,-.805,-.99,-.811,.02,-.869,-.2,-.879,-.38,-.906,-2.18,-.861,-2.67,-.947,-.2,-.877,-.37,-.924,-.37,-.947,-.1,-.931
];

// ---------- Venn outline anchor points (diagram units) ----------
const vennOuterOutline = [[290,565],[355,577],[500,640],[625,730],[730,825],[820,940],[900,1060],[960,1180],[990,1290],[1000,1375],[985,1450],[940,1497],[890,1522],[820,1535],[750,1522],[700,1497],[640,1455],[470,1340],[350,1210],[235,1050],[150,900],[113,770],[125,680],[175,605],[230,572]];
const vennInnerOutline = [[530,413],[620,425],[720,475],[820,545],[920,630],[1012,730],[1090,835],[1160,950],[1215,1080],[1235,1200],[1215,1290],[1160,1350],[1085,1385],[1000,1375],[910,1340],[820,1295],[730,1235],[680,1180],[570,1065],[482,950],[405,810],[360,680],[352,580],[385,490],[450,430]];
const vennRegions = [
 ["A","#aaaaff","dep-plus"],["B","#ffffaa","deg-plus"],["C","#7fffa9","deg-minus"],["D","#ffaaaa","dep-minus"],
 ["AB","#c8c8b0","dep-plus-deg-plus"],["BC","#7dff66","deg-plus-deg-minus"],["CD","#d0aa72","deg-minus-dep-minus"],["AC","#19cbae","dep-plus-deg-minus"],["BD","#ffae6f","deg-plus-dep-minus"],["AD","#de72ae","dep-plus-dep-minus"],
 ["ABC","#44dd6e","dep-plus-deg-plus-deg-minus"],["BCD","#d4ac44","deg-plus-deg-minus-dep-minus"],["ACD","#ac8a72","dep-plus-deg-minus-dep-minus"],["ABD","#f3877a","dep-plus-deg-plus-dep-minus"],
 ["ABCD","#b79146","all-four"]
];

const NS = "http://www.w3.org/2000/svg";
const COLORS = {filtered:"#7f8a88", up:"#ff0000", down:"#00ee00", opp:"#aa22ee", single:"#0088ee"};

function svgEl(tag, parent){
  const el = document.createElementNS(NS, tag);
  parent.appendChild(el);
  return el;
}

function drawPoints(parent, xy, sx, sy, r, color, name){
  for (let i = 0; i + 1 < xy.length; i += 2){
    const c = svgEl("circle", parent);
    c.setAttribute("cx", sx(xy[i]).toFixed(1));
    c.setAttribute("cy", sy(xy[i+1]).toFixed(1));
    c.setAttribute("r", r);
    c.setAttribute("fill", color);
    
    
  }
}

function drawLine(parent, x1, y1, x2, y2, stroke, width, name){
  const l = svgEl("line", parent);
  l.setAttribute("x1", x1); l.setAttribute("y1", y1);
  l.setAttribute("x2", x2); l.setAttribute("y2", y2);
  l.setAttribute("stroke", stroke);
  l.setAttribute("stroke-width", width);
  
  
}

function drawPanel(p){
  const g = document.getElementById(p.id);
  const sx = v => p.x0 + v * p.ux;
  const sy = v => p.y0 - v * p.uy;

  // dense core of filtered points as an envelope polygon
  const core = svgEl("path", g);
  let d = "";
  p.coreX.forEach((v,i)=>{ d += (i ? "L" : "M") + sx(v).toFixed(1) + " " + sy(p.coreTop[i]).toFixed(1); });
  for (let i = p.coreX.length - 1; i >= 0; i--){ d += "L" + sx(p.coreX[i]).toFixed(1) + " " + sy(p.coreBottom[i]).toFixed(1); }
  core.setAttribute("d", d + "Z");
  core.setAttribute("fill", COLORS.filtered);
  
  

  drawPoints(g, p.filtered, sx, sy, p.r, COLORS.filtered, 'filtered-point');
  drawPoints(g, p.up, sx, sy, p.r, COLORS.up, 'cor-up-point');
  drawPoints(g, p.down, sx, sy, p.r, COLORS.down, 'cor-down-point');
  drawPoints(g, p.opp, sx, sy, p.r - 0.5, COLORS.opp, 'opposite-sig-point');
  drawPoints(g, p.single, sx, sy, p.r, COLORS.single, 'single-sig-point');

  // reference lines
  [-1, 1].forEach(v => drawLine(g, sx(v), p.top, sx(v), p.bottom, "rgba(160,160,160,0.85)", 4, 'threshold-line-vertical'));
  drawLine(g, sx(0), p.top, sx(0), p.bottom, "rgba(145,145,145,0.85)", 4, 'zero-line-vertical');
  [-0.585, 0.585].forEach(v => drawLine(g, p.left, sy(v), p.right, sy(v), "rgba(160,160,160,0.85)", 4, 'threshold-line-horizontal'));
  drawLine(g, p.left, sy(0), p.right, sy(0), "rgba(145,145,145,0.85)", 4, 'zero-line-horizontal');

  // frame
  const frame = svgEl("rect", g);
  frame.setAttribute("x", p.left); frame.setAttribute("y", p.top);
  frame.setAttribute("width", p.right - p.left); frame.setAttribute("height", p.bottom - p.top);
  frame.setAttribute("fill", "none"); frame.setAttribute("stroke", "#444"); frame.setAttribute("stroke-width", 4);
  
  

  // ticks
  p.xTicks.forEach(v => {
    drawLine(g, sx(v), p.bottom, sx(v), p.bottom + 30, "#444", 4, 'x-axis-tick');
    const t = svgEl("text", g);
    t.setAttribute("x", sx(v)); t.setAttribute("y", p.bottom + 104);
    t.setAttribute("text-anchor", "middle");
    t.setAttribute("class", "tick");
    t.textContent = String(v);
    
    
  });
  p.yTicks.forEach((v,i) => {
    drawLine(g, p.left - 30, sy(v), p.left, sy(v), "#444", 4, 'y-axis-tick');
    const t = svgEl("text", g);
    t.setAttribute("transform", "translate(" + (p.left - p.ylabelGap) + "," + sy(v) + ") rotate(-90)");
    t.setAttribute("text-anchor", "middle");
    t.setAttribute("class", "tick");
    t.textContent = p.yLabels[i];
    
    
  });
}

drawPanel({id:"panelA", left:289, right:1569, top:130, bottom:1307, x0:922.3, ux:97.67, y0:750, uy:447, r:6.8, ylabelGap:73,
  coreX:coreXA, coreTop:coreTopA, coreBottom:coreBottomA, filtered:filteredA, up:corUpA, down:corDownA, opp:oppositeSigA, single:singleSigA,
  xTicks:xTicksA, yTicks:yTicksA, yLabels:yTickLabelsA});
drawPanel({id:"panelB", left:1936, right:3098, top:129, bottom:1309, x0:2588.5, ux:87.3, y0:714.4, uy:312.3, r:6.2, ylabelGap:73,
  coreX:coreXB, coreTop:coreTopB, coreBottom:coreBottomB, filtered:filteredB, up:corUpB, down:corDownB, opp:oppositeSigB, single:singleSigB,
  xTicks:xTicksB, yTicks:yTicksB, yLabels:yTickLabelsB});

// ---------- Venn diagrams ----------
function smoothClosed(pts){
  const n = pts.length;
  let d = "M" + pts[0][0] + " " + pts[0][1];
  for (let i = 0; i < n; i++){
    const p0 = pts[(i-1+n)%n], p1 = pts[i], p2 = pts[(i+1)%n], p3 = pts[(i+2)%n];
    const c1x = p1[0] + (p2[0]-p0[0])/6, c1y = p1[1] + (p2[1]-p0[1])/6;
    const c2x = p2[0] - (p3[0]-p1[0])/6, c2y = p2[1] - (p3[1]-p1[1])/6;
    d += "C" + c1x.toFixed(1) + " " + c1y.toFixed(1) + " " + c2x.toFixed(1) + " " + c2y.toFixed(1) + " " + p2[0] + " " + p2[1];
  }
  return d + "Z";
}
const mirror = pts => pts.map(q => [1640 - q[0], q[1]]);
const vennPaths = {
  A: smoothClosed(vennOuterOutline),
  B: smoothClosed(vennInnerOutline),
  C: smoothClosed(mirror(vennInnerOutline)),
  D: smoothClosed(mirror(vennOuterOutline))
};
const defs = document.getElementById("vennDefs");
Object.keys(vennPaths).forEach(k => {
  const cp = svgEl("clipPath", defs);
  cp.setAttribute("id", "clip" + k);
  const pth = svgEl("path", cp);
  pth.setAttribute("d", vennPaths[k]);
});
function drawVenn(prefix){
  const fill = document.getElementById("venn" + prefix + "Fill");
  const line = document.getElementById("venn" + prefix + "Line");
  vennRegions.forEach(reg => {
    let parent = fill;
    reg[0].split("").forEach(letter => {
      const w = svgEl("g", parent);
      w.setAttribute("clip-path", "url(#clip" + letter + ")");
      parent = w;
    });
    const r = svgEl("rect", parent);
    r.setAttribute("x", 0); r.setAttribute("y", 350);
    r.setAttribute("width", 1640); r.setAttribute("height", 1250);
    r.setAttribute("fill", reg[1]);
    
    
  });
  Object.keys(vennPaths).forEach(k => {
    const o = svgEl("path", line);
    o.setAttribute("d", vennPaths[k]);
    o.setAttribute("fill", "none");
    o.setAttribute("stroke", "#000");
    o.setAttribute("stroke-width", 10);
    o.setAttribute("vector-effect", "non-scaling-stroke");
    
    
  });
}
drawVenn("C");
drawVenn("D");
</script>
</body>
</html>
